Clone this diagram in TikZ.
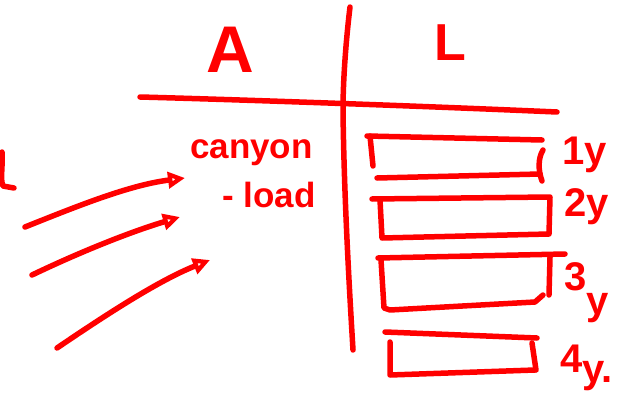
\documentclass[tikz,border=0pt]{standalone}
\usepackage{fontspec}
\setmainfont{Liberation Sans}
\usetikzlibrary{arrows.meta}
\definecolor{ink}{RGB}{255,0,0}
\begin{document}
\begin{tikzpicture}[x=1pt,y=-1pt, line cap=round, line join=round,
  pen/.style={draw=ink, line width=5.5pt},
  arr/.style={pen, -{Triangle[open, length=17pt, width=16pt, line width=5pt]}},
  big/.style={text=ink, inner sep=0pt, anchor=base, font=\bfseries\fontsize{#1}{#1}\selectfont},
  word/.style={text=ink, inner sep=0pt, anchor=base west, font=\bfseries\fontsize{35}{35}\selectfont},
  year/.style={text=ink, inner sep=0pt, anchor=base west, font=\bfseries\fontsize{40}{40}\selectfont}]
\useasboundingbox (0,0) rectangle (634,412);
% headers
\node[big=66] (hA) at (230,72) {A};
\node[big=52] (hL) at (450,60) {L};
% table lines
\draw[pen] (350,7) .. controls (346,40) and (343,80) .. (343,110) .. controls (344,200) and (350,300) .. (353,350);
\draw[pen] (140,97) .. controls (250,100) and (420,106) .. (557,112);
% left cut-off mark
\draw[pen] (2,152) .. controls (3,165) and (0,180) .. (3,186) -- (14,188);
% texts
\node[word] (t1) at (190,158) {canyon};
\node[word] (t2) at (222,207) {- load};
% arrows
\coordinate (s1) at (25,227); \coordinate (e1) at (185,178);
\coordinate (s2) at (32,275); \coordinate (e2) at (180,217);
\coordinate (s3) at (57,348); \coordinate (e3) at (210,260);
\draw[arr] (s1) .. controls (80,205) and (130,185) .. (e1);
\draw[arr] (s2) .. controls (80,252) and (130,232) .. (e2);
\draw[arr] (s3) .. controls (110,312) and (160,280) .. (e3);
% bars
\draw[pen] (367,136) -- (542,140);
\draw[pen] (370,136) -- (373,166);
\draw[pen] (377,178) -- (540,174);
\draw[pen] (543,150) .. controls (538,158) and (538,170) .. (542,181);
\draw[pen] (372,199) -- (550,197) -- (549,234) -- (382,238) -- (380,200);
\draw[pen] (378,258) -- (565,254);
\draw[pen] (381,260) -- (384,308) -- (390,310) -- (535,302) -- (543,295);
\draw[pen] (550,257) -- (549,295);
\draw[pen] (385,332) -- (537,338);
\draw[pen] (390,342) -- (390,375) -- (535,370);
\draw[pen] (532,343) -- (536,370);
% year labels
\node[year] (y1) at (562,164) {1y};
\node[year] (y2) at (564,216) {2y};
\node[year] (y3) at (564,290) {3\raisebox{-24pt}{y}};
\node[year] (y4) at (560,372) {4\raisebox{-10pt}{y.}};
\end{tikzpicture}
\end{document}
